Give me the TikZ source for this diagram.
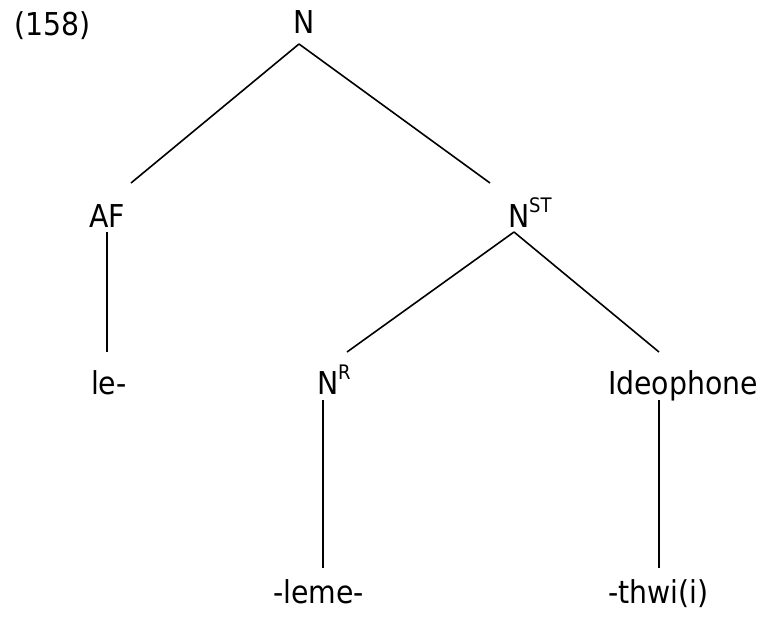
\documentclass[tikz,border=0pt]{standalone}
\usepackage{fontspec}
\setmainfont{DejaVu Sans Condensed}
\usetikzlibrary{calc}
\tikzset{
  lbl/.style={anchor=base west, inner sep=0pt, outer sep=0pt, font=\fontsize{31.5}{36}\selectfont},
  edge/.style={draw=black, line width=1.6pt}
}
\newcommand{\supx}[1]{\raisebox{15pt}{\fontsize{20}{20}\selectfont #1}}
\begin{document}
\begin{tikzpicture}[x=1pt,y=-1pt]
\useasboundingbox (0,0) rectangle (763,619);
\node[lbl] (ex) at (14,35) {(158)};
\node[lbl] (N) at (293,33) {N};
\node[lbl] (AF) at (89,227) {AF};
\node[lbl] (NST) at (508,227) {N\supx{ST}};
\node[lbl] (le) at (91,394) {le-};
\node[lbl] (NR) at (317,394) {N\supx{R}};
\node[lbl] (Id) at (608,394) {Ideophone};
\node[lbl] (leme) at (273,603) {-leme-};
\node[lbl] (thwi) at (608,603) {-thwi(i)};
\draw[edge] ($(N.base west)+(6,11)$) -- ($(AF.base west)+(42,-44)$);
\draw[edge] ($(N.base west)+(6,11)$) -- ($(NST.base west)+(-18,-44)$);
\draw[edge] ($(AF.base west)+(18,5)$) -- ($(le.base west)+(16,-42)$);
\draw[edge] ($(NST.base west)+(6,5)$) -- ($(NR.base west)+(30,-42)$);
\draw[edge] ($(NST.base west)+(6,5)$) -- ($(Id.base west)+(51,-42)$);
\draw[edge] ($(NR.base west)+(6,6)$) -- ($(leme.base west)+(50,-35)$);
\draw[edge] ($(Id.base west)+(51,6)$) -- ($(thwi.base west)+(51,-35)$);
\end{tikzpicture}
\end{document}
